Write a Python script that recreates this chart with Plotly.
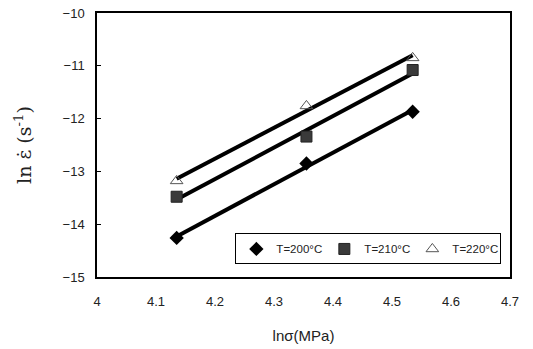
import numpy as np
import plotly.graph_objects as go

x_vals = [4.135, 4.355, 4.535]
y_200 = [-14.26, -12.85, -11.87]
y_210 = [-13.48, -12.34, -11.08]
y_220 = [-13.18, -11.76, -10.85]
names = ["T=200°C", "T=210°C", "T=220°C"]

fig = go.Figure()
series = [
    (y_200, dict(symbol="diamond", size=11, color="black")),
    (y_210, dict(symbol="square", size=11, color="#3a3a3a", line=dict(color="#222", width=1))),
    (y_220, dict(symbol="triangle-up-open", size=11, color="#555", line=dict(width=1))),
]
for ys, mk in series:
    c = np.polyfit(x_vals, ys, 1)
    xl = [x_vals[0], x_vals[-1]]
    fig.add_trace(go.Scatter(x=xl, y=np.polyval(c, xl), mode="lines",
                             line=dict(color="black", width=4), showlegend=False))
for (ys, mk), nm in zip(series, names):
    fig.add_trace(go.Scatter(x=x_vals, y=ys, mode="markers", marker=mk, name=nm))

fig.update_layout(
    width=533, height=349,
    margin=dict(l=97, r=23, t=13, b=72),
    paper_bgcolor="white", plot_bgcolor="white",
    font=dict(family="Arial, Liberation Sans", color="#222", size=13),
    showlegend=True,
    legend=dict(orientation="h", x=0.335, y=0.165, xanchor="left", yanchor="top",
                bordercolor="black", borderwidth=1, bgcolor="white",
                font=dict(size=11.5), itemwidth=30, tracegroupgap=0,
                entrywidth=43, entrywidthmode="pixels"),
    xaxis=dict(range=[4, 4.7], dtick=0.1, showgrid=False, zeroline=False,
               showline=True, linecolor="black", linewidth=1.5, mirror=True,
               ticks="", ticklabelstandoff=12, automargin=False,
               title=dict(text="lnσ(MPa)", font=dict(size=15), standoff=22)),
    yaxis=dict(range=[-15, -10], dtick=1, showgrid=False, zeroline=False,
               showline=True, linecolor="black", linewidth=1.5, mirror=True,
               ticks="inside", ticklen=4, tickcolor="black", ticklabelstandoff=8,
               automargin=False,
               title=dict(text="ln ε\u0307 (s<sup>-1</sup>)",
                          font=dict(family="DejaVu Serif, Liberation Serif", size=19), standoff=26)),
)
fig.write_html("out.html")
